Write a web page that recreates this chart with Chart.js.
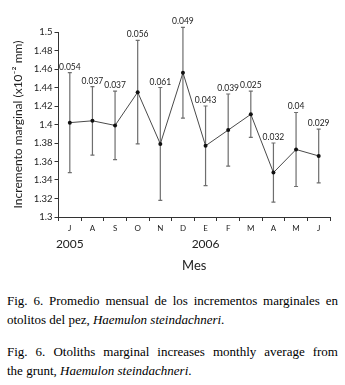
<!DOCTYPE html>
<html>
<head>
<meta charset="utf-8">
<script src="https://cdn.jsdelivr.net/npm/chart.js@4"></script>
<style>
  body { margin: 0; background: #fff; width: 345px; height: 385px; position: relative; overflow: hidden; }
  #wrap { position: absolute; left: 0; top: 0; width: 345px; height: 285px; }
  #caption { position: absolute; left: 7px; top: 292px; width: 331px;
    font-family: "Liberation Serif", "Times New Roman", serif; font-size: 13px;
    line-height: 18.5px; color: #000; }
  #caption p { margin: 0 0 14px 0; }
  #caption .full { display: block; text-align: justify; text-align-last: justify; }
  #caption .last { display: block; text-align: left; }
</style>
</head>
<body>
<div id="wrap"><canvas id="chart"></canvas></div>
<div id="caption">
  <p><span class="full">Fig. 6. Promedio mensual de los incrementos marginales en</span><span class="last">otolitos del pez, <i>Haemulon steindachneri</i>.</span></p>
  <p><span class="full">Fig. 6. Otoliths marginal increases monthly average from</span><span class="last">the grunt, <i>Haemulon steindachneri</i>.</span></p>
</div>
<script>
// months Jul 2005 - Jun 2006
const months = ['J', 'A', 'S', 'O', 'N', 'D', 'E', 'F', 'M', 'A', 'M', 'J'];
const years = ['2005', '', '', '', '', '', '2006', '', '', '', '', ''];
const meanValues = [1.402, 1.404, 1.399, 1.435, 1.379, 1.456, 1.377, 1.394, 1.411, 1.348, 1.373, 1.366];
const errValues = [0.054, 0.037, 0.037, 0.056, 0.061, 0.049, 0.043, 0.039, 0.025, 0.032, 0.04, 0.029];
const errLabels = ['0.054', '0.037', '0.037', '0.056', '0.061', '0.049', '0.043', '0.039', '0.025', '0.032', '0.04', '0.029'];

// error bars + numbers above them
const errorBars = {
  id: 'errorBars',
  beforeDatasetsDraw(chart) {
    const { ctx, scales: { x, y } } = chart;
    ctx.save();
    ctx.strokeStyle = '#6e6e6e';
    ctx.lineWidth = 1.2;
    meanValues.forEach((v, i) => {
      const px = x.getPixelForValue(i);
      const top = y.getPixelForValue(v + errValues[i]);
      const bot = y.getPixelForValue(v - errValues[i]);
      ctx.beginPath();
      ctx.moveTo(px, top);
      ctx.lineTo(px, bot);
      ctx.moveTo(px - 2, top);
      ctx.lineTo(px + 2, top);
      ctx.moveTo(px - 2, bot);
      ctx.lineTo(px + 2, bot);
      ctx.stroke();
    });
    ctx.fillStyle = '#222';
    ctx.font = '8.5px Lato';
    ctx.textAlign = 'center';
    ctx.textBaseline = 'alphabetic';
    meanValues.forEach((v, i) => {
      const px = x.getPixelForValue(i);
      const top = y.getPixelForValue(v + errValues[i]);
      ctx.fillText(errLabels[i], px, top - 3);
    });
    ctx.restore();
  },
  afterDraw(chart) {
    const { ctx, chartArea, scales: { x } } = chart;
    ctx.save();
    ctx.fillStyle = '#222';
    ctx.font = '12px Lato';
    ctx.textAlign = 'center';
    ctx.textBaseline = 'middle';
    years.forEach((t, i) => {
      if (t) ctx.fillText(t, x.getPixelForValue(i), chartArea.bottom + 27);
    });
    ctx.restore();
  }
};

new Chart(document.getElementById('chart'), {
  type: 'line',
  data: {
    labels: months,
    datasets: [{
      data: meanValues,
      borderColor: '#4a4a4a',
      borderWidth: 1,
      pointRadius: 2,
      pointBackgroundColor: '#111',
      pointBorderColor: '#111',
      pointBorderWidth: 0,
      tension: 0
    }]
  },
  options: {
    responsive: true,
    maintainAspectRatio: false,
    animation: false,
    layout: { padding: { left: 0, right: 15, top: 32, bottom: 0 } },
    plugins: { legend: { display: false }, tooltip: { enabled: false } },
    scales: {
      x: {
        offset: true,
        grid: { drawOnChartArea: false, drawTicks: true, tickLength: 4, color: '#333', offset: true },
        border: { color: '#333', width: 1 },
        ticks: { color: '#222', font: { family: 'Lato', size: 8 }, padding: 3, maxRotation: 0, autoSkip: false },
        title: { display: true, text: 'Mes', color: '#222', font: { family: 'Lato', size: 13 }, padding: { top: 0, bottom: 11 } },
        afterFit(scale) { scale.height = 68; }
      },
      y: {
        min: 1.3,
        max: 1.5,
        grid: { drawOnChartArea: false, drawTicks: true, tickLength: 4, color: '#333' },
        border: { color: '#333', width: 1 },
        ticks: {
          stepSize: 0.02,
          color: '#222',
          font: { family: 'Lato', size: 9.5 },
          padding: 2,
          callback: v => String(Math.round(v * 100) / 100)
        },
        title: { display: true, text: 'Incremento marginal (x10⁻² mm)', color: '#222', font: { family: 'Lato', size: 12 }, padding: { top: 11, bottom: 0 } },
        afterFit(scale) { scale.width = 58.5; }
      }
    }
  },
  plugins: [errorBars]
});
</script>
</body>
</html>
